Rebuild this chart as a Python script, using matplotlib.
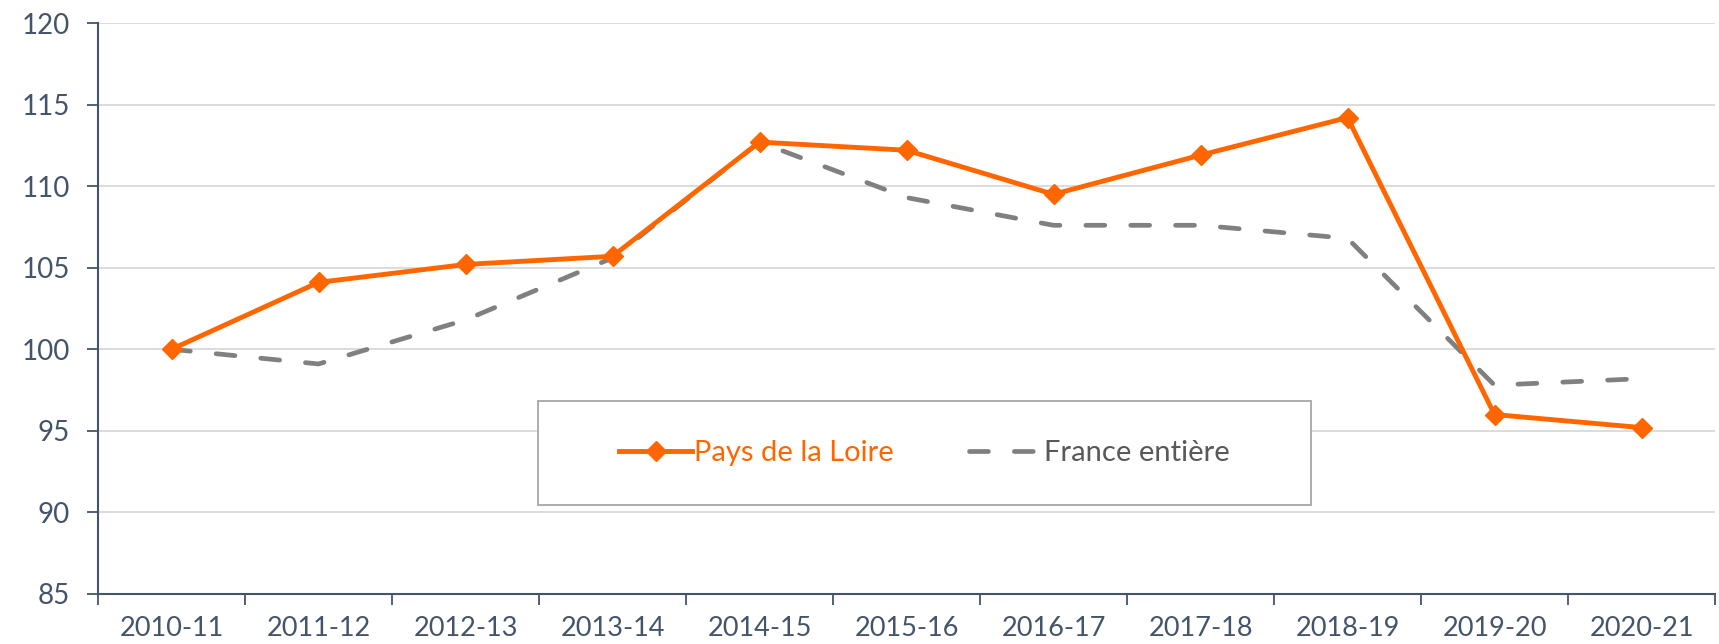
import matplotlib
matplotlib.use("Agg")
import matplotlib.pyplot as plt
from matplotlib.patches import Rectangle

categories = ["2010-11", "2011-12", "2012-13", "2013-14", "2014-15", "2015-16",
              "2016-17", "2017-18", "2018-19", "2019-20", "2020-21"]
pays_de_la_loire = [100.0, 104.1, 105.2, 105.7, 112.7, 112.2, 109.5, 111.9, 114.2, 96.0, 95.2]
france_entiere = [100.0, 99.1, 101.8, 105.6, 112.7, 109.3, 107.6, 107.6, 106.8, 97.8, 98.2]
y_ticks = [85, 90, 95, 100, 105, 110, 115, 120]

plt.rcParams['font.family'] = ['Lato', 'DejaVu Sans']

ORANGE = "#FF6600"
GRAY = "#808080"
AXCOL = "#44546A"

fig = plt.figure(figsize=(17.19, 6.44), dpi=100)
ax = fig.add_axes([98/1719, 1 - 594/644, (1715-98)/1719, (594-23)/644])

x = list(range(len(categories)))
ax.plot(x, pays_de_la_loire, color=ORANGE, lw=3.5, marker='D', markersize=10,
        solid_joinstyle='round', label="Pays de la Loire", zorder=4)
ax.plot(x, france_entiere, color=GRAY, lw=3.4, dashes=(4.0, 5.5), dash_capstyle='round',
        dash_joinstyle='round', label="France entière", zorder=3)

ax.set_xlim(-0.5, len(categories) - 0.5)
ax.set_ylim(85, 120)
ax.set_yticks(y_ticks)
ax.set_yticklabels([str(v) for v in y_ticks])
ax.set_xticks(x)
ax.set_xticklabels(categories)
ax.set_xticks([i - 0.5 for i in range(len(categories) + 1)], minor=True)
ax.tick_params(axis='x', which='major', length=0, pad=16, labelsize=19.5, labelcolor=AXCOL)
ax.tick_params(axis='x', which='minor', length=8, width=1.3, color=AXCOL, direction='out')
ax.tick_params(axis='y', which='major', length=8, width=1.3, color=AXCOL, pad=12,
               labelsize=20, labelcolor=AXCOL)

ax.grid(axis='y', color="#D9D9D9", lw=1.3, zorder=0)
ax.set_axisbelow(True)
for s in ['top', 'right']:
    ax.spines[s].set_visible(False)
for s in ['left', 'bottom']:
    ax.spines[s].set_color(AXCOL)
    ax.spines[s].set_linewidth(1.5)

# legend box
bx0, by0, bw, bh = 0.272, 0.156, 0.478, 0.182
ax.add_patch(Rectangle((bx0, by0), bw, bh, transform=ax.transAxes, facecolor='white',
                       edgecolor="#A6A6A6", lw=1.3, zorder=5))
leg = ax.legend(loc='center', bbox_to_anchor=(bx0 + bw/2, by0 + bh/2),
                ncol=2, frameon=False, fontsize=21,
                handlelength=2.5, columnspacing=2.6, handletextpad=0.05,
                borderaxespad=0)
leg.set_zorder(6)
texts = leg.get_texts()
texts[0].set_color(ORANGE)
texts[1].set_color("#595959")

fig.savefig("out.png", dpi=100)
